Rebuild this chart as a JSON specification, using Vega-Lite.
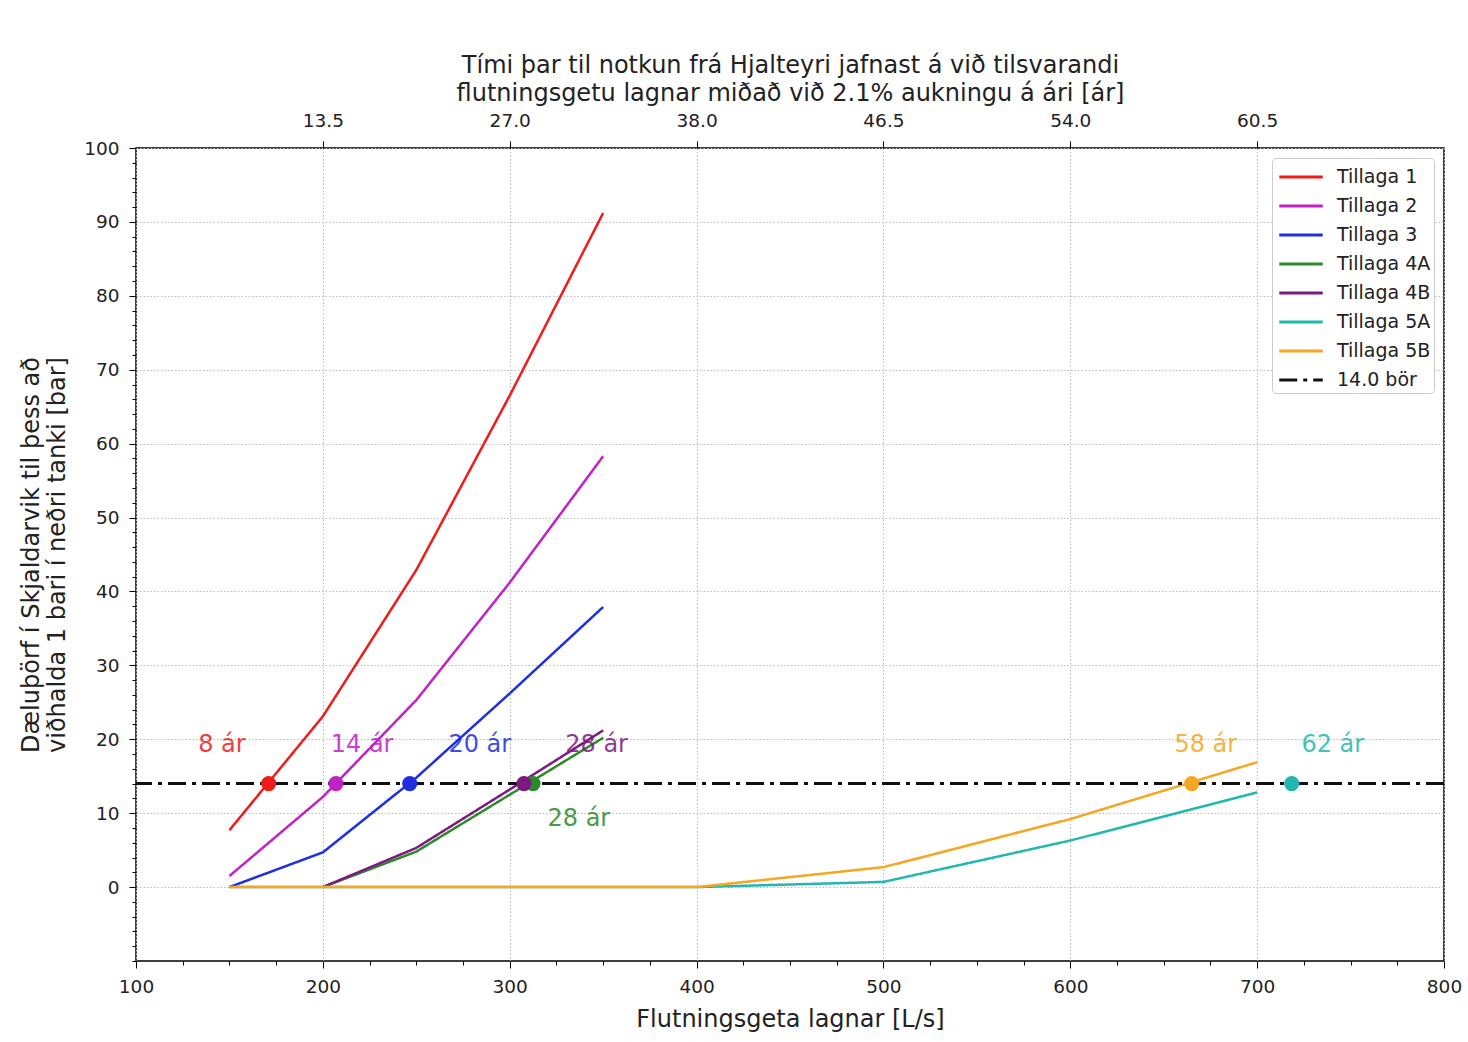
{
  "$schema": "https://vega.github.io/schema/vega-lite/v6.json",
  "width": 1308,
  "height": 813,
  "autosize": {"type": "none"},
  "padding": {"left": 136, "top": 148, "right": 24, "bottom": 81},
  "background": "white",
  "config": {
    "font": "DejaVu Sans",
    "view": {"stroke": "#000000", "strokeWidth": 1.5},
    "axis": {"labelFont": "DejaVu Sans", "titleFont": "DejaVu Sans", "labelColor": "#222", "titleColor": "#222", "titleFontWeight": "normal", "tickColor": "#000", "labelFontSize": 18.5, "titleFontSize": 24, "labelOverlap": false, "labelFlush": false, "labelBound": false},
    "legend": {"labelFont": "DejaVu Sans"}
  },
  "datasets": {
    "lines": [
      {"series": "Tillaga 1", "x": 150, "y": 7.7},
      {"series": "Tillaga 1", "x": 200, "y": 23.1},
      {"series": "Tillaga 1", "x": 250, "y": 42.9},
      {"series": "Tillaga 1", "x": 300, "y": 66.5},
      {"series": "Tillaga 1", "x": 350, "y": 91.2},
      {"series": "Tillaga 2", "x": 150, "y": 1.5},
      {"series": "Tillaga 2", "x": 200, "y": 12.2},
      {"series": "Tillaga 2", "x": 250, "y": 25.3},
      {"series": "Tillaga 2", "x": 300, "y": 41.2},
      {"series": "Tillaga 2", "x": 350, "y": 58.3},
      {"series": "Tillaga 3", "x": 150, "y": 0},
      {"series": "Tillaga 3", "x": 200, "y": 4.7},
      {"series": "Tillaga 3", "x": 250, "y": 14.8},
      {"series": "Tillaga 3", "x": 300, "y": 26.2},
      {"series": "Tillaga 3", "x": 350, "y": 37.9},
      {"series": "Tillaga 4A", "x": 200, "y": 0},
      {"series": "Tillaga 4A", "x": 250, "y": 4.8},
      {"series": "Tillaga 4A", "x": 300, "y": 12.5},
      {"series": "Tillaga 4A", "x": 350, "y": 20.2},
      {"series": "Tillaga 4B", "x": 200, "y": 0},
      {"series": "Tillaga 4B", "x": 250, "y": 5.3},
      {"series": "Tillaga 4B", "x": 300, "y": 13.2},
      {"series": "Tillaga 4B", "x": 350, "y": 21.2},
      {"series": "Tillaga 5A", "x": 150, "y": 0},
      {"series": "Tillaga 5A", "x": 200, "y": 0},
      {"series": "Tillaga 5A", "x": 300, "y": 0},
      {"series": "Tillaga 5A", "x": 400, "y": 0},
      {"series": "Tillaga 5A", "x": 500, "y": 0.7},
      {"series": "Tillaga 5A", "x": 600, "y": 6.3},
      {"series": "Tillaga 5A", "x": 700, "y": 12.8},
      {"series": "Tillaga 5B", "x": 150, "y": 0},
      {"series": "Tillaga 5B", "x": 200, "y": 0},
      {"series": "Tillaga 5B", "x": 300, "y": 0},
      {"series": "Tillaga 5B", "x": 400, "y": 0},
      {"series": "Tillaga 5B", "x": 500, "y": 2.7},
      {"series": "Tillaga 5B", "x": 600, "y": 9.2},
      {"series": "Tillaga 5B", "x": 700, "y": 16.9}
    ],
    "points": [
      {"series": "Tillaga 1", "x": 171, "y": 14},
      {"series": "Tillaga 2", "x": 207, "y": 14},
      {"series": "Tillaga 3", "x": 246.5, "y": 14},
      {"series": "Tillaga 4A", "x": 312.5, "y": 14},
      {"series": "Tillaga 4B", "x": 307.6, "y": 14},
      {"series": "Tillaga 5B", "x": 665, "y": 14},
      {"series": "Tillaga 5A", "x": 718.5, "y": 14}
    ],
    "labels": [
      {"series": "Tillaga 1", "x": 146, "y": 19.2, "text": "8 ár"},
      {"series": "Tillaga 2", "x": 221, "y": 19.2, "text": "14 ár"},
      {"series": "Tillaga 3", "x": 284, "y": 19.2, "text": "20 ár"},
      {"series": "Tillaga 4B", "x": 346.5, "y": 19.2, "text": "28 ár"},
      {"series": "Tillaga 4A", "x": 337, "y": 9.2, "text": "28 ár"},
      {"series": "Tillaga 5B", "x": 672.5, "y": 19.2, "text": "58 ár"},
      {"series": "Tillaga 5A", "x": 740.5, "y": 19.2, "text": "62 ár"}
    ],
    "threshold": [{"series": "14.0 bör", "y": 14}],
    "dummy": [{"x": 100}]
  },
  "layer": [
    {
      "data": {"name": "lines"},
      "mark": {"type": "line", "strokeWidth": 2.5},
      "encoding": {
        "x": {
          "field": "x", "type": "quantitative",
          "scale": {"domain": [100, 800], "nice": false, "zero": false},
          "axis": {
            "orient": "bottom",
            "values": [100,125,150,175,200,225,250,275,300,325,350,375,400,425,450,475,500,525,550,575,600,625,650,675,700,725,750,775,800],
            "labelExpr": "datum.value % 100 === 0 ? datum.label : ''",
            "labelPadding": 9,
            "tickSize": {"condition": {"test": "datum.value % 100 === 0", "value": 7}, "value": 4},
            "grid": true,
            "gridDash": [1.5, 2],
            "gridColor": "#bdbdbd",
            "gridOpacity": {"condition": {"test": "datum.value % 100 === 0", "value": 1}, "value": 0},
            "domain": false,
            "title": "Flutningsgeta lagnar [L/s]",
            "titlePadding": 12
          }
        },
        "y": {
          "field": "y", "type": "quantitative",
          "scale": {"domain": [-10, 100], "nice": false, "zero": false},
          "axis": {
            "orient": "left",
            "values": [-10,-8,-6,-4,-2,0,2,4,6,8,10,12,14,16,18,20,22,24,26,28,30,32,34,36,38,40,42,44,46,48,50,52,54,56,58,60,62,64,66,68,70,72,74,76,78,80,82,84,86,88,90,92,94,96,98,100],
            "labelExpr": "(datum.value % 10 === 0 && datum.value >= 0) ? datum.label : ''",
            "labelPadding": 10,
            "tickSize": {"condition": {"test": "datum.value % 10 === 0 && datum.value >= 0", "value": 7}, "value": 4},
            "grid": true,
            "gridDash": [1.5, 2],
            "gridColor": "#bdbdbd",
            "gridOpacity": {"condition": {"test": "datum.value % 10 === 0 && datum.value >= 0", "value": 1}, "value": 0},
            "domain": false,
            "title": ["Dæluþörf í Skjaldarvik til þess að", "viðhalda 1 bari í neðri tanki [bar]"],
            "titleLineHeight": 26,
            "titlePadding": 14
          }
        },
        "color": {
          "field": "series", "type": "nominal",
          "scale": {
            "domain": ["Tillaga 1", "Tillaga 2", "Tillaga 3", "Tillaga 4A", "Tillaga 4B", "Tillaga 5A", "Tillaga 5B", "14.0 bör"],
            "range": ["#f01c1c", "#c022c4", "#1f2fe0", "#2a8a2a", "#7d1a80", "#22b8b0", "#f5a623", "#111111"]
          },
          "legend": {
            "orient": "top-right", "offset": 10, "title": null,
            "symbolType": "M-1.5,0H1.5", "symbolStrokeWidth": 3, "symbolSize": 841, "symbolOffset": 10,
            "labelFontSize": 19, "labelColor": "#222", "labelOffset": 20, "rowPadding": 3,
            "strokeColor": "#cccccc", "fillColor": "white", "padding": 3, "cornerRadius": 4
          }
        },
        "strokeDash": {
          "field": "series", "type": "nominal",
          "scale": {
            "domain": ["Tillaga 1", "Tillaga 2", "Tillaga 3", "Tillaga 4A", "Tillaga 4B", "Tillaga 5A", "Tillaga 5B", "14.0 bör"],
            "range": [[1, 0], [1, 0], [1, 0], [1, 0], [1, 0], [1, 0], [1, 0], [18, 6, 4, 6]]
          },
          "legend": {
            "orient": "top-right", "offset": 10, "title": null,
            "symbolType": "M-1.5,0H1.5", "symbolStrokeWidth": 3, "symbolSize": 841, "symbolOffset": 10,
            "labelFontSize": 19, "labelColor": "#222", "labelOffset": 20, "rowPadding": 3,
            "strokeColor": "#cccccc", "fillColor": "white", "padding": 3, "cornerRadius": 4
          }
        }
      }
    },
    {
      "data": {"name": "threshold"},
      "mark": {"type": "rule", "strokeWidth": 3},
      "encoding": {
        "y": {"field": "y", "type": "quantitative", "axis": null},
        "color": {"field": "series", "type": "nominal"},
        "strokeDash": {"field": "series", "type": "nominal"}
      }
    },
    {
      "data": {"name": "points"},
      "mark": {"type": "circle", "size": 230, "opacity": 1},
      "encoding": {
        "x": {"field": "x", "type": "quantitative", "axis": null},
        "y": {"field": "y", "type": "quantitative", "axis": null},
        "color": {"field": "series", "type": "nominal"}
      }
    },
    {
      "data": {"name": "labels"},
      "mark": {"type": "text", "fontSize": 24, "font": "DejaVu Sans", "align": "center", "baseline": "middle", "opacity": 0.85},
      "encoding": {
        "x": {"field": "x", "type": "quantitative", "axis": null},
        "y": {"field": "y", "type": "quantitative", "axis": null},
        "text": {"field": "text"},
        "color": {"field": "series", "type": "nominal"}
      }
    },
    {
      "data": {"name": "dummy"},
      "mark": {"type": "point", "opacity": 0},
      "encoding": {
        "x": {
          "field": "x", "type": "quantitative",
          "axis": {
            "orient": "top",
            "values": [200, 300, 400, 500, 600, 700],
            "labelExpr": "datum.value === 200 ? '13.5' : datum.value === 300 ? '27.0' : datum.value === 400 ? '38.0' : datum.value === 500 ? '46.5' : datum.value === 600 ? '54.0' : '60.5'",
            "tickSize": 7,
            "labelPadding": 11,
            "grid": false,
            "domain": false,
            "title": ["Tími þar til notkun frá Hjalteyri jafnast á við tilsvarandi", "flutningsgetu lagnar miðað við 2.1% aukningu á ári [ár]"],
            "titleLineHeight": 28,
            "titlePadding": 6
          }
        }
      }
    }
  ],
  "resolve": {"axis": {"x": "independent", "y": "independent"}}
}
